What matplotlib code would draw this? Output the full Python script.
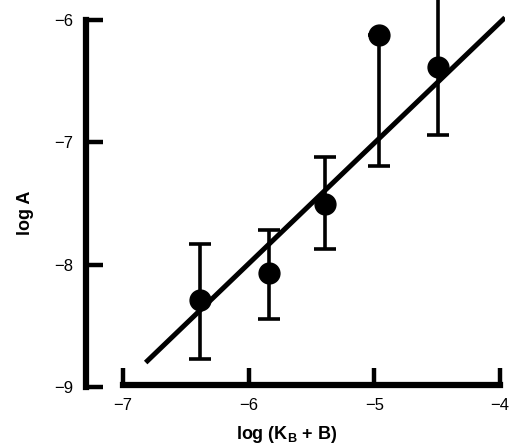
import matplotlib
matplotlib.use("Agg")
import matplotlib.pyplot as plt

plt.rcParams["font.family"] = ["Liberation Sans", "DejaVu Sans"]
plt.rcParams["mathtext.fontset"] = "custom"
plt.rcParams["mathtext.rm"] = "Liberation Sans"
plt.rcParams["mathtext.bf"] = "Liberation Sans:bold"

# measured points: log(K_B + B) vs log A
log_kb = [-6.385, -5.84, -5.39, -4.965, -4.49]
log_a = [-8.29, -8.07, -7.50, -6.12, -6.38]
err_low = [0.48, 0.37, 0.37, 1.07, 0.56]
err_high = [0.46, 0.35, 0.38, 0.0, 0.56]

# fitted line end points
fit_x = [-6.82, -3.96]
fit_y = [-8.80, -5.98]

xticks = [-7, -6, -5, -4]
yticks = [-9, -8, -7, -6]

fig = plt.figure(figsize=(5.12, 4.48), dpi=100)
ax = fig.add_axes([86 / 512, 61 / 448, 419 / 512, 387 / 448])

ax.plot(fit_x, fit_y, color="black", lw=3.6, solid_capstyle="butt", zorder=2)
ax.errorbar(log_kb, log_a, yerr=[err_low, err_high], fmt="o", color="black",
            ms=15, elinewidth=2.6, capsize=8, capthick=2.6, zorder=3)

ax.set_xlim(-7.295, -3.96)
ax.set_ylim(-9.0, -5.836)

for s in ["top", "right"]:
    ax.spines[s].set_visible(False)
ax.spines["left"].set_bounds(-9, -6)
ax.spines["bottom"].set_bounds(-7, -4)
ax.spines["left"].set_linewidth(4.5)
ax.spines["bottom"].set_linewidth(4.5)
ax.spines["bottom"].set_position(("data", -8.985))

ax.set_xticks(xticks)
ax.set_yticks(yticks)
ax.set_xticklabels([f"\u2212{abs(t)}" for t in xticks])
ax.set_yticklabels([f"\u2212{abs(t)}" for t in yticks])
ax.tick_params(axis="both", direction="in", length=12, width=3.2,
               labelsize=12)
ax.tick_params(axis="x", pad=9)
ax.tick_params(axis="y", pad=9)

ax.set_xlabel(r"log (K$_{\mathbf{B}}$ + B)", fontsize=13, fontweight="bold")
ax.set_ylabel("log A", fontsize=13, fontweight="bold")
ax.xaxis.set_label_coords(0.48, -0.096)
ax.yaxis.set_label_coords(-0.125, 0.45)

fig.savefig("out.png", dpi=100)
